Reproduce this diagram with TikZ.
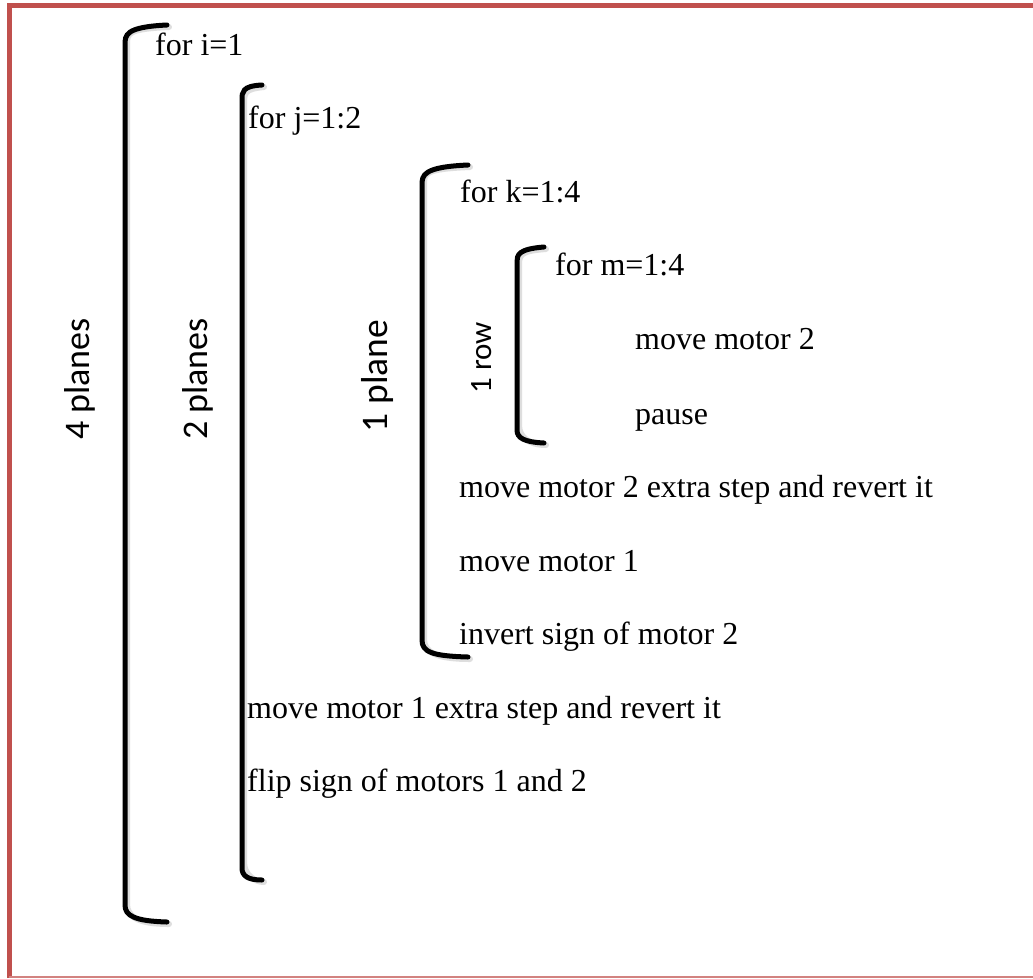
\documentclass[tikz,border=0pt]{standalone}
\usepackage{fontspec}
\setmainfont{Liberation Serif}
\newfontfamily\calib{Carlito}
\definecolor{bordred}{RGB}{192,80,77}
\definecolor{bordlight}{RGB}{210,130,128}
\begin{document}
\begin{tikzpicture}[x=1pt,y=-1pt,
  brk/.style={line width=5pt,line cap=round,black},
  shd/.style={line width=6pt,line cap=round,black!25,opacity=0.5},
  code/.style={anchor=base west,inner sep=0pt,font=\fontsize{32}{38}\selectfont},
  lbl/.style={rotate=90,inner sep=0pt,font=\calib\fontsize{36}{40}\selectfont},
  border/.style={line width=5pt,draw=bordred}]
\useasboundingbox (0,0) rectangle (1033,978);
\fill[white] (0,0) rectangle (1033,978);
% border
\draw[border] (9,978) -- (9,5.5) -- (1033,5.5);
\draw[line width=1.5pt,bordlight] (9,977) -- (1033,977);
% brackets: shadows
\foreach \xv/\yt/\yb/\tip in {125/25/922/167, 242/85/880/262, 422/165/657/468, 517/247/443/544}{
  \draw[shd] (\tip+2,\yt+2) .. controls (\xv+2,\yt+4) and (\xv+2,\yt+8) .. (\xv+2,\yt+20) -- (\xv+2,\yb-18) .. controls (\xv+2,\yb-6) and (\xv+12,\yb+2) .. (\tip+2,\yb+2);
}
% brackets
\draw[brk] (167,25) .. controls (125,27) and (125,35) .. (125,45) -- (125,905) .. controls (125,916) and (135,921) .. (167,922);
\draw[brk] (262,85) .. controls (242,86) and (242,92) .. (242,100) -- (242,868) .. controls (242,876) and (248,880) .. (262,880);
\draw[brk] (468,165) .. controls (423,167) and (422,175) .. (422,185) -- (422,640) .. controls (422,652) and (432,656) .. (468,657);
\draw[brk] (544,247) .. controls (518,249) and (517,255) .. (517,262) -- (517,430) .. controls (517,438) and (524,442) .. (544,443);
% code lines
\node[code] (ti) at (155,55) {for i=1};
\node[code] (tj) at (248,128) {for j=1:2};
\node[code] (tk) at (460,202) {for k=1:4};
\node[code] (tm) at (555,275) {for m=1:4};
\node[code] (mm2) at (635,349) {move motor 2};
\node[code] (pa) at (635,424) {pause};
\node[code] (ex2) at (459,497) {move motor 2 extra step and revert it};
\node[code] (mm1) at (459,571) {move motor 1};
\node[code] (inv) at (459,644) {invert sign of motor 2};
\node[code] (ex1) at (247,718) {move motor 1 extra step and revert it};
\node[code] (flip) at (247,791) {flip sign of motors 1 and 2};
% rotated labels
\node[lbl] (p4) at (80,379) {4 planes};
\node[lbl] (p2) at (198,379) {2 planes};
\node[lbl,font=\calib\fontsize{37.5}{42}\selectfont] (p1) at (377,376) {1 plane};
\node[lbl,font=\calib\fontsize{31}{34}\selectfont] (r1) at (482,358) {1 row};
\end{tikzpicture}
\end{document}
